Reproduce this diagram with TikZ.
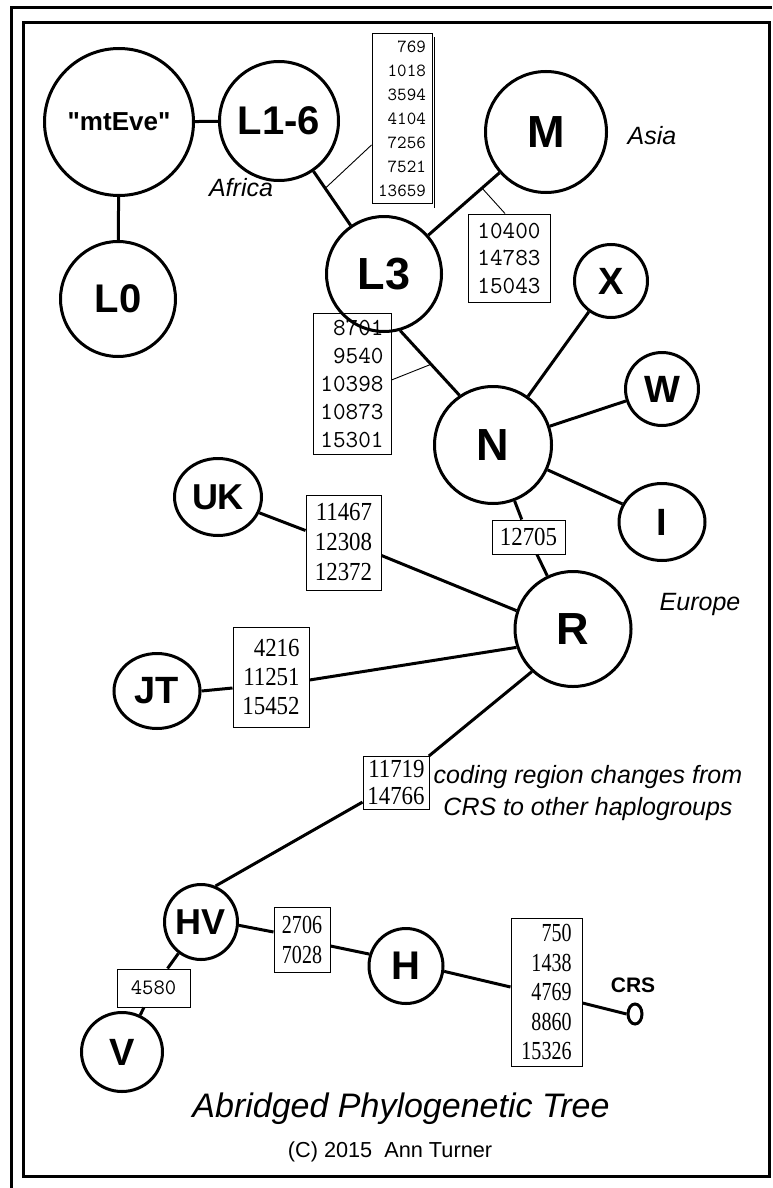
\documentclass[tikz,border=0pt]{standalone}
\usepackage{fontspec}
\setmainfont{Liberation Sans}
\newfontfamily\monof{Latin Modern Mono}
\newfontfamily\serifA[FakeStretch=0.88]{Liberation Serif}
\newfontfamily\serifB[FakeStretch=0.77]{Liberation Serif}
\newcommand\mydq{\XeTeXglyph\XeTeXcharglyph"22\relax}
\usetikzlibrary{shapes.geometric,calc}
\begin{document}
\begin{tikzpicture}[x=1pt,y=-1pt,
  hap/.style={ellipse, draw, line width=3pt, inner sep=0pt},
  con/.style={line width=3pt},
  lead/.style={line width=0.9pt},
  numbox/.style={draw, line width=1pt, inner sep=0pt, align=right},
  reg/.style={font=\itshape\fontsize{25}{31}\selectfont, anchor=base, inner sep=0pt},
  frame/.style={line width=3pt}]
\useasboundingbox (0,0) rectangle (772,1188);
% frame
\draw[frame] (11,1188) -- (11,7.5) -- (772,7.5);
\draw[frame] (23.5,22.5) rectangle (769,1176.5);
% haplogroup nodes
\node[hap, minimum width=149pt, minimum height=147pt, font=\bfseries\fontsize{26}{26}\selectfont] (eve) at (119,122) {\mydq mtEve\mydq};
\node[hap, minimum width=119pt, minimum height=119pt, font=\bfseries\fontsize{40}{40}\selectfont] (L16) at (279,121) {L1-6};
\node[hap, minimum width=115pt, minimum height=115pt, font=\bfseries\fontsize{40}{40}\selectfont] (L0) at (118,299) {L0};
\node[hap, minimum width=115pt, minimum height=115pt, font=\bfseries\fontsize{45}{45}\selectfont] (L3) at (384,274) {L3};
\node[hap, minimum width=121pt, minimum height=121pt, font=\bfseries\fontsize{45}{45}\selectfont] (M) at (546,132) {M};
\node[hap, minimum width=73pt, minimum height=73pt, font=\bfseries\fontsize{38}{38}\selectfont] (X) at (611,281) {X};
\node[hap, minimum width=73pt, minimum height=73pt, font=\bfseries\fontsize{38}{38}\selectfont] (W) at (662,389) {W};
\node[hap, minimum width=117pt, minimum height=117pt, font=\bfseries\fontsize{45}{45}\selectfont] (N) at (493,445) {N};
\node[hap, minimum width=86pt, minimum height=77pt, font=\bfseries\fontsize{38}{38}\selectfont] (I) at (662,522) {I};
\node[hap, minimum width=116pt, minimum height=115pt, font=\bfseries\fontsize{45}{45}\selectfont] (R) at (573,629) {R};
\node[hap, minimum width=87pt, minimum height=77pt, font=\bfseries\fontsize{36}{36}\selectfont] (UK) at (218,497) {UK};
\node[hap, minimum width=86pt, minimum height=75pt, font=\bfseries\fontsize{38}{38}\selectfont] (JT) at (157,691) {JT};
\node[hap, minimum width=73pt, minimum height=75pt, font=\bfseries\fontsize{36}{36}\selectfont] (HV) at (201,922) {HV};
\node[hap, minimum width=74pt, minimum height=75pt, font=\bfseries\fontsize{40}{40}\selectfont] (H) at (406,966) {H};
\node[hap, minimum width=81pt, minimum height=79pt, font=\bfseries\fontsize{38}{38}\selectfont] (V) at (122,1052) {V};
\node[hap, minimum width=14pt, minimum height=20pt] (crs) at (635,1014) {};
% number boxes
\node[numbox, minimum width=60pt, minimum height=169pt, font=\monof\fontsize{18.5}{24}\selectfont] (b1) at (402,118.5) {769\\1018\\3594\\4104\\7256\\7521\\13659};
\node[numbox, minimum width=82pt, minimum height=88pt, font=\monof\fontsize{24.5}{27.5}\selectfont] (b2) at (509,258) {10400\\14783\\15043};
\node[numbox, minimum width=78pt, minimum height=141pt, font=\monof\fontsize{24.5}{28}\selectfont] (b3) at (352,383.5) {8701\\9540\\10398\\10873\\15301};
\node[numbox, minimum width=75pt, minimum height=95pt, font=\serifA\fontsize{26}{30}\selectfont] (b4) at (343.5,542.5) {11467\\12308\\12372};
\node[numbox, minimum width=76pt, minimum height=100pt, font=\serifA\fontsize{26}{29}\selectfont] (b5) at (271,677) {4216\\11251\\15452};
\node[numbox, minimum width=73pt, minimum height=34pt, font=\serifA\fontsize{26}{29}\selectfont] (b6) at (528.5,537) {12705};
\node[numbox, minimum width=66pt, minimum height=53pt, font=\serifA\fontsize{26}{27}\selectfont] (b7) at (396,783) {11719\\14766};
\node[numbox, minimum width=56pt, minimum height=65pt, font=\serifB\fontsize{26}{30}\selectfont] (b8) at (302,939.5) {2706\\7028};
\node[numbox, minimum width=73pt, minimum height=38pt, font=\monof\fontsize{22}{22}\selectfont] (b9) at (153.5,988) {4580};
\node[numbox, minimum width=71pt, minimum height=148pt, font=\serifB\fontsize{26}{29.5}\selectfont] (b10) at (546.5,992) {750\\1438\\4769\\8860\\15326};
\draw[line width=1pt] ([xshift=1.5pt,yshift=-4pt]b1.north east) -- ([xshift=1.5pt,yshift=-4pt]b1.south east);
% connectors
\draw[con] (eve) -- (L16);
\draw[con] (eve) -- (L0);
\draw[con] (L16) -- (L3);
\draw[con] (L3) -- (M);
\draw[con] (L3.-74) -- (N.124);
\draw[con] (N) -- (X);
\draw[con] (N) -- (W);
\draw[con] (N) -- (I);
\draw[con] (N) -- (b6);
\draw[con] (b6) -- (R);
\draw[con] (UK) -- ([yshift=12pt]b4.west);
\draw[con] ([yshift=-13pt]b4.east) -- (R.162);
\draw[con] (JT.east) -- ([yshift=-11pt]b5.west);
\draw[con] ([yshift=-3pt]b5.east) -- (R.198);
\draw[con] (R.226) -- (b7);
\draw[con] (b7) -- (HV.68);
\draw[con] (HV.-5) -- ([yshift=7.5pt]b8.west);
\draw[con] ([yshift=-6.5pt]b8.east) -- (H.162);
\draw[con] (H.-8) -- ([yshift=5pt]b10.west);
\draw[con] ([yshift=-11pt]b10.east) -- (crs.west);
\draw[con] (HV) -- (b9);
\draw[con] (b9) -- (V);
% leaders
\coordinate (p1) at ($(L16)!0.44!(L3)$);
\coordinate (p2) at ($(L3)!0.605!(M)$);
\coordinate (p3) at ($(L3.-74)!0.52!(N.124)$);
\draw[lead] ([yshift=-26.5pt]b1.west) -- (p1);
\draw[lead] (p2) -- ([xshift=-4pt]b2.north);
\draw[lead] ([yshift=3.5pt]b3.east) -- (p3);
% labels
\node[reg] (africa) at (241,196) {Africa};
\node[reg] (asia) at (652,144) {Asia};
\node[reg] (europe) at (700,610) {Europe};
\node[reg] (coding1) at (588,783) {coding region changes from};
\node[reg] (coding2) at (588,815) {CRS to other haplogroups};
\node[anchor=base, inner sep=0pt, font=\bfseries\fontsize{21}{21}\selectfont] (crslabel) at (633,992) {CRS};
\node[anchor=base, inner sep=0pt, font=\itshape\fontsize{34}{34}\selectfont] (title) at (401,1117) {Abridged Phylogenetic Tree};
\node[anchor=base, inner sep=0pt, font=\fontsize{21.7}{21.7}\selectfont] (copy) at (390,1157) {(C) 2015\ \ Ann Turner};
\end{tikzpicture}
\end{document}
